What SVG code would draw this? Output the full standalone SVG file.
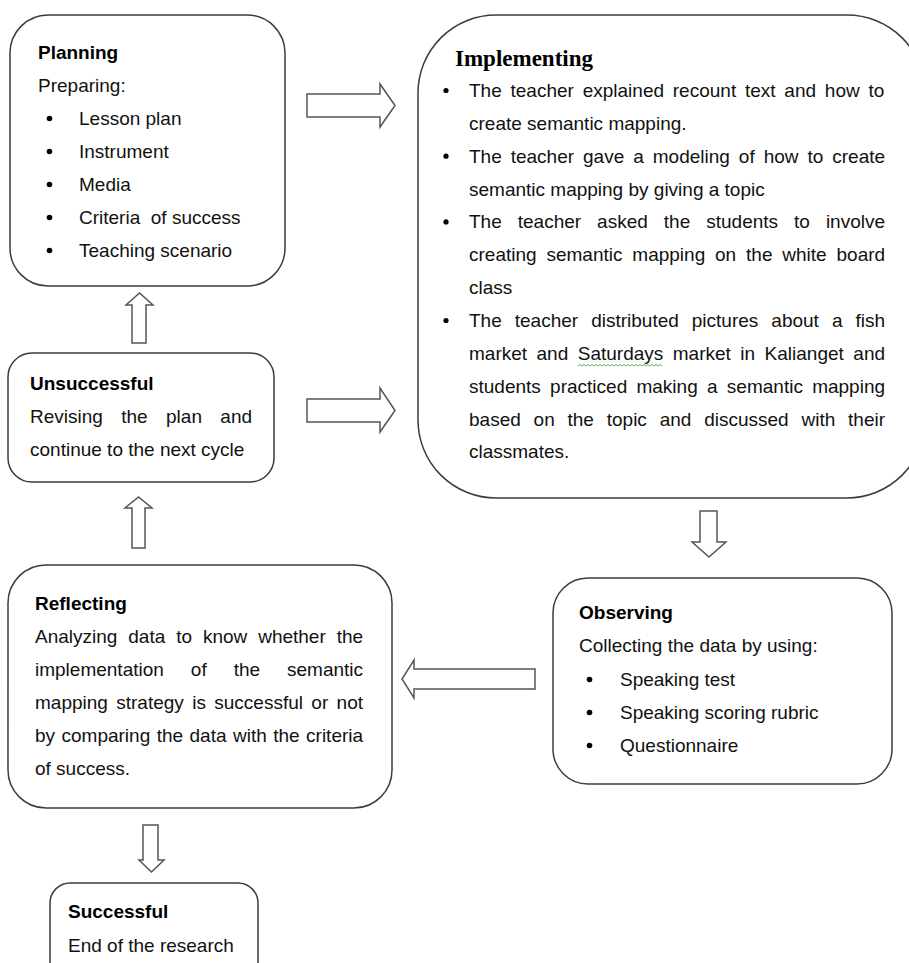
<svg xmlns="http://www.w3.org/2000/svg" width="909" height="963" viewBox="0 0 909 963">
<style>
.box{fill:#fff;stroke:#3c3c3c;stroke-width:1.5}
.arr{fill:#fff;stroke:#555;stroke-width:1.5;stroke-linejoin:miter}
.t{font-family:"Liberation Sans",Arial,sans-serif;font-size:19px;fill:#111}
.h{font-family:"Liberation Sans",Arial,sans-serif;font-size:19px;font-weight:bold;fill:#000}
.hs{font-family:"Liberation Serif","Times New Roman",serif;font-size:23px;font-weight:bold;fill:#000}
.b{fill:#000}
</style>
<rect width="909" height="963" fill="#fff"/>
<g id="connectors">
<polygon class="arr" points="307,94 380,94 380,84 395,105.5 380,127 380,117 307,117"/>
<polygon class="arr" points="307,399 380,399 380,388 395,410.5 380,432 380,422 307,422"/>
<polygon class="arr" points="132,343 132,305 126,305 139.5,293 153,305 146,305 146,343"/>
<polygon class="arr" points="132,548 132,508 125,508 138.5,497 152,508 145,508 145,548"/>
<polygon class="arr" points="700,511 717,511 717,542 726,542 709,557 692,542 700,542"/>
<polygon class="arr" points="535,669 535,689 414,689 414,698 402,679 414,660 414,669"/>
<polygon class="arr" points="143,825 158,825 158,860 164,860 151.5,872 139,860 143,860"/>
</g>
<g id="planning">
<rect class="box" x="10" y="15" width="275" height="271" rx="38"/>
<text class="h" x="38" y="59">Planning</text>
<text class="t" x="38" y="92">Preparing:</text>
<circle class="b" cx="49.5" cy="118.5" r="2.8"/>
<text class="t" x="79" y="125">Lesson plan</text>
<circle class="b" cx="49.5" cy="151.5" r="2.8"/>
<text class="t" x="79" y="158">Instrument</text>
<circle class="b" cx="49.5" cy="184.5" r="2.8"/>
<text class="t" x="79" y="191">Media</text>
<circle class="b" cx="49.5" cy="217.5" r="2.8"/>
<text class="t" x="79" y="224" xml:space="preserve">Criteria  of success</text>
<circle class="b" cx="49.5" cy="250.5" r="2.8"/>
<text class="t" x="79" y="257">Teaching scenario</text>
</g>
<g id="implementing">
<rect class="box" x="418" y="15" width="507" height="483" rx="78"/>
<text class="hs" x="455" y="66">Implementing</text>
<circle class="b" cx="446" cy="90.5" r="2.6"/>
<text class="t" x="469" y="97" style="word-spacing:3.5px">The teacher explained recount text and how to</text>
<text class="t" x="469" y="129.9">create semantic mapping.</text>
<circle class="b" cx="446" cy="156.2" r="2.6"/>
<text class="t" x="469" y="162.7" style="word-spacing:3.69px">The teacher gave a modeling of how to create</text>
<text class="t" x="469" y="195.6">semantic mapping by giving a topic</text>
<circle class="b" cx="446" cy="221.9" r="2.6"/>
<text class="t" x="469" y="228.4" style="word-spacing:10.72px">The teacher asked the students to involve</text>
<text class="t" x="469" y="261.3" style="word-spacing:4.57px">creating semantic mapping on the white board</text>
<text class="t" x="469" y="294.1">class</text>
<circle class="b" cx="446" cy="320.5" r="2.6"/>
<text class="t" x="469" y="327" style="word-spacing:7.73px">The teacher distributed pictures about a fish</text>
<text class="t" x="469" y="359.8" style="word-spacing:4.21px">market and Saturdays market in Kalianget and</text>
<path d="M578,366 l2,-1.5 2,1.5 2,-1.5 2,1.5 2,-1.5 2,1.5 2,-1.5 2,1.5 2,-1.5 2,1.5 2,-1.5 2,1.5 2,-1.5 2,1.5 2,-1.5 2,1.5 2,-1.5 2,1.5 2,-1.5 2,1.5 2,-1.5 2,1.5 2,-1.5 2,1.5 2,-1.5 2,1.5 2,-1.5 2,1.5 2,-1.5 2,1.5 2,-1.5 2,1.5 2,-1.5 2,1.5 2,-1.5 2,1.5 2,-1.5 2,1.5 2,-1.5 2,1.5 2,-1.5 2,1.5" fill="none" stroke="#4caf50" stroke-width="0.9"/>
<text class="t" x="469" y="392.7" style="word-spacing:4px">students practiced making a semantic mapping</text>
<text class="t" x="469" y="425.5" style="word-spacing:7.53px">based on the topic and discussed with their</text>
<text class="t" x="469" y="458.4">classmates.</text>
</g>
<g id="unsuccessful">
<rect class="box" x="8" y="353" width="266" height="129" rx="24"/>
<text class="h" x="30" y="390">Unsuccessful</text>
<text class="t" x="30" y="423" style="word-spacing:13.1px">Revising the plan and</text>
<text class="t" x="30" y="456">continue to the next cycle</text>
</g>
<g id="reflecting">
<rect class="box" x="8" y="565" width="384" height="243" rx="38"/>
<text class="h" x="35" y="610">Reflecting</text>
<text class="t" x="35" y="643" style="word-spacing:5.62px">Analyzing data to know whether the</text>
<text class="t" x="35" y="676" style="word-spacing:21.7px">implementation of the semantic</text>
<text class="t" x="35" y="709" style="word-spacing:3.08px">mapping strategy is successful or not</text>
<text class="t" x="35" y="742" style="word-spacing:1.17px">by comparing the data with the criteria</text>
<text class="t" x="35" y="775">of success.</text>
</g>
<g id="observing">
<rect class="box" x="553" y="578" width="339" height="206" rx="35"/>
<text class="h" x="579" y="619">Observing</text>
<text class="t" x="579" y="652">Collecting the data by using:</text>
<circle class="b" cx="589.5" cy="679.5" r="2.8"/>
<text class="t" x="620" y="686">Speaking test</text>
<circle class="b" cx="589.5" cy="712.5" r="2.8"/>
<text class="t" x="620" y="719">Speaking scoring rubric</text>
<circle class="b" cx="589.5" cy="745.5" r="2.8"/>
<text class="t" x="620" y="752">Questionnaire</text>
</g>
<g id="successful">
<rect class="box" x="50" y="883" width="208" height="110" rx="20"/>
<text class="h" x="68" y="918">Successful</text>
<text class="t" x="68" y="952">End of the research</text>
</g>
</svg>
